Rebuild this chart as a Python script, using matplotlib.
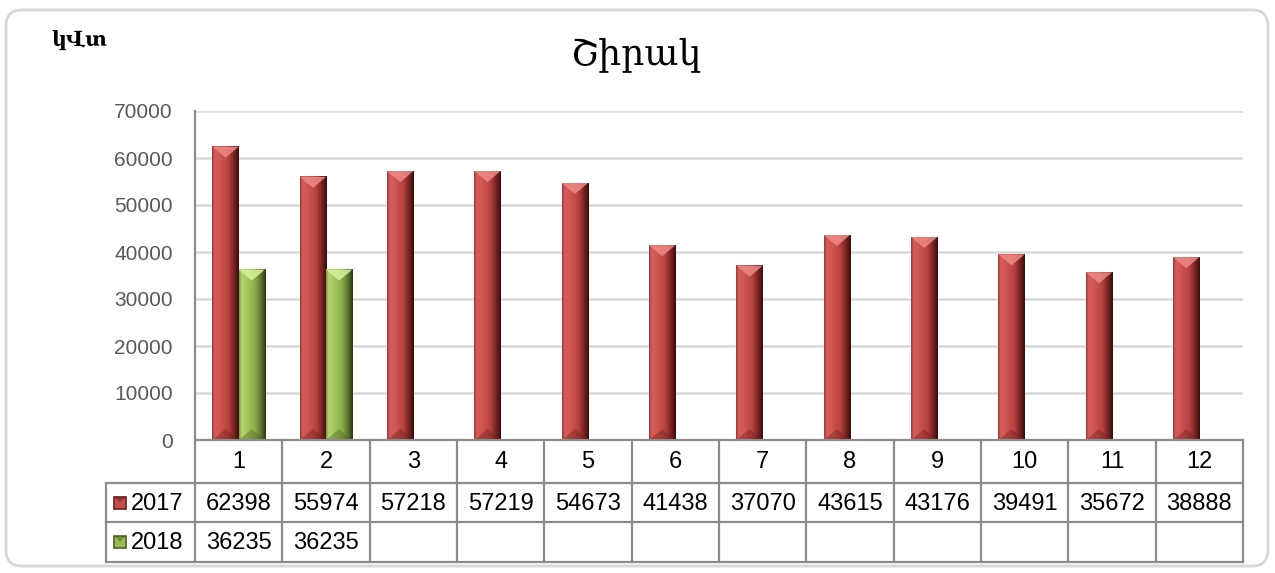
import numpy as np
import matplotlib
matplotlib.use('Agg')
import matplotlib.pyplot as plt
from matplotlib.colors import LinearSegmentedColormap
from matplotlib.patches import Polygon, FancyBboxPatch, Rectangle

# chart data
months = [str(i) for i in range(1, 13)]
series = ['2017', '2018']
v2017 = [62398, 55974, 57218, 57219, 54673, 41438, 37070, 43615, 43176, 39491, 35672, 38888]
v2018 = [36235, 36235]
title = 'Շիրակ'
unit = 'կՎտ'

W, H = 1275, 573
fig = plt.figure(figsize=(W / 100, H / 100), dpi=100)
fig.patch.set_facecolor('white')

def fx(px):
    return px / W

def fy(py):
    return 1 - py / H

# plot area in pixels
L, R, T, B = 195, 1243, 111, 440
ax = fig.add_axes([fx(L), fy(B), fx(R) - fx(L), fy(T) - fy(B)])

ymax = 70000
bw = 0.3
dx_px = (R - L) / 12.0   # pixels per category
dy_px = (B - T) / ymax   # pixels per unit

red_cm = LinearSegmentedColormap.from_list('r', [
    (0.0, '#9e3a37'), (0.1, '#d65e5a'), (0.3, '#cf5652'),
    (0.6, '#b8433f'), (0.82, '#7a2422'), (1.0, '#3a0e0d')])
green_cm = LinearSegmentedColormap.from_list('g', [
    (0.0, '#7f9c44'), (0.1, '#b6d56e'), (0.3, '#a6c65f'),
    (0.6, '#8cab4b'), (0.82, '#5c7830'), (1.0, '#2a3812')])
grad = np.linspace(0, 1, 64).reshape(1, -1)


def bevel_bar(x0, h, cmap, top_col, bot_col):
    ax.imshow(grad, extent=(x0, x0 + bw, 0, h), aspect='auto', cmap=cmap,
              interpolation='bilinear', zorder=3)
    d = (bw * dx_px * 0.42) / dy_px
    xc = x0 + bw / 2
    ax.add_patch(Polygon([(x0, h), (x0 + bw, h), (xc, h - d)], closed=True,
                         fc=top_col, ec='none', alpha=0.85, zorder=4))
    ax.add_patch(Polygon([(x0, 0), (x0 + bw, 0), (xc, d)], closed=True,
                         fc=bot_col, ec='none', alpha=0.4, zorder=4))


xs = np.arange(1, 13)
for i, v in enumerate(v2017):
    bevel_bar(xs[i] - bw, v, red_cm, '#ec8a86', '#6e1e1c')
for i, v in enumerate(v2018):
    bevel_bar(xs[i], v, green_cm, '#d6f29a', '#4a6020')

ax.set_xlim(0.5, 12.5)
ax.set_ylim(0, ymax)
ax.set_yticks(range(0, ymax + 1, 10000))
ax.set_xticks([])
ax.grid(axis='y', color='#d9d9d9', lw=1.8)
ax.set_axisbelow(True)
for s in ['top', 'right', 'bottom']:
    ax.spines[s].set_visible(False)
ax.spines['left'].set_color('#8c8c8c')
ax.spines['left'].set_linewidth(1.6)
ax.tick_params(axis='y', length=0, pad=16, labelsize=15, labelcolor='#595959')
for lab in ax.get_yticklabels():
    lab.set_fontfamily('Liberation Sans')

# overlay in pixel coordinates for table and frame
ov = fig.add_axes([0, 0, 1, 1])
ov.set_xlim(0, W)
ov.set_ylim(H, 0)
ov.axis('off')
ov.patch.set_visible(False)

ov.add_patch(FancyBboxPatch((6, 10), 1262, 556, boxstyle='round,pad=0,rounding_size=16',
                            fc='none', ec='#d8d8d8', lw=2))

gc = '#8c8c8c'
tl = 106
rows = [440, 483, 522, 562]
cols = [L + k * dx_px for k in range(13)]
ov.plot([L, R], [rows[0], rows[0]], color=gc, lw=1.6)
for y in rows[1:]:
    ov.plot([tl, R], [y, y], color=gc, lw=1.6)
for x in cols:
    ov.plot([x, x], [rows[0], rows[-1]], color=gc, lw=1.6)
ov.plot([tl, tl], [rows[1], rows[-1]], color=gc, lw=1.6)

tfont = dict(fontsize=17, family='Liberation Sans', color='black', ha='center', va='center')
for k, m in enumerate(months):
    ov.text((cols[k] + cols[k + 1]) / 2, (rows[0] + rows[1]) / 2 + 1, m, **tfont)
for k, v in enumerate(v2017):
    ov.text((cols[k] + cols[k + 1]) / 2, (rows[1] + rows[2]) / 2 + 1, str(v), **tfont)
for k, v in enumerate(v2018):
    ov.text((cols[k] + cols[k + 1]) / 2, (rows[2] + rows[3]) / 2 + 1, str(v), **tfont)

for j, (name, fc, dc) in enumerate(zip(series, ['#c0504d', '#9bbb59'], ['#6e1e1c', '#4a6020'])):
    yc = (rows[j + 1] + rows[j + 2]) / 2
    ov.add_patch(Rectangle((114, yc - 6), 12, 12, fc=fc, ec=dc, lw=1.2))
    ov.add_patch(Polygon([(114, yc - 6), (126, yc - 6), (120, yc)], fc=dc, alpha=0.5, ec='none'))
    ov.text(131, yc + 1, name, fontsize=17, family='Liberation Sans', va='center', ha='left')

ov.text(636, 55, title, fontsize=26, family=['DejaVu Serif', 'DejaVu Sans'],
        ha='center', va='center')
ov.text(52, 40, unit, fontsize=15, fontweight='bold', family=['DejaVu Serif', 'DejaVu Sans'],
        ha='left', va='center')

fig.savefig('out.png', dpi=100, facecolor='white')
